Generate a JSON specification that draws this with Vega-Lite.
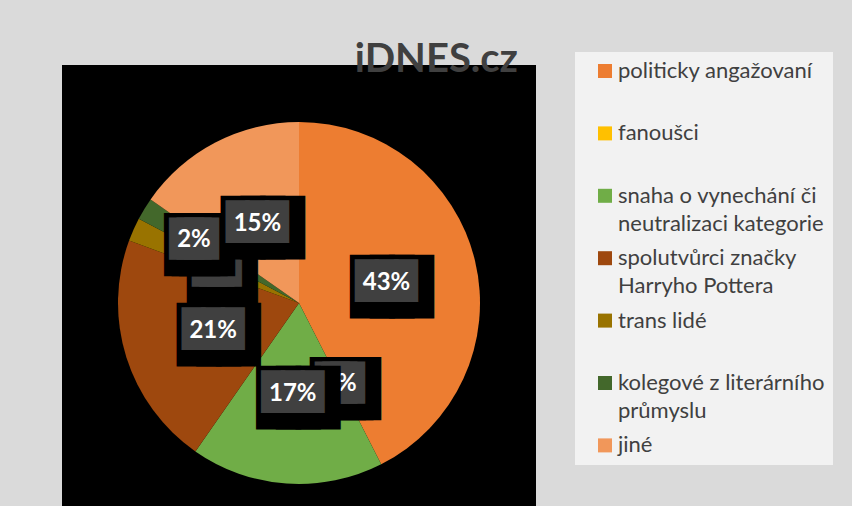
{
  "$schema": "https://vega.github.io/schema/vega-lite/v6.json",
  "width": 404,
  "height": 406,
  "autosize": {"type": "none"},
  "padding": {"left": 97, "top": 100, "right": 351, "bottom": 0},
  "background": "#dadada",
  "view": {"fill": "black", "stroke": "black", "strokeWidth": 70},
  "config": {"view": {"fill": "black", "stroke": "black", "strokeWidth": 70}},
  "title": {"text": "iDNES.cz", "anchor": "end", "frame": "group", "font": "Lato", "fontSize": 40, "fontWeight": "bold", "color": "#404040", "baseline": "alphabetic", "offset": 0, "dx": 17, "dy": 60},
  "data": {"values": [
    {"category": "politicky angažovaní", "value": 42.5, "order": 1, "label": "43%"},
    {"category": "fanoušci", "value": 0, "order": 2, "label": "0%"},
    {"category": "snaha o vynechání či neutralizaci kategorie", "value": 17.2, "order": 3, "label": "17%"},
    {"category": "spolutvůrci značky Harryho Pottera", "value": 20.9, "order": 4, "label": "21%"},
    {"category": "trans lidé", "value": 2.1, "order": 5, "label": "2%"},
    {"category": "kolegové z literárního průmyslu", "value": 2.0, "order": 6, "label": "2%"},
    {"category": "jiné", "value": 15.3, "order": 7, "label": "15%"}
  ]},
  "encoding": {
    "theta": {"field": "value", "type": "quantitative", "stack": true},
    "order": {"field": "order", "type": "quantitative"},
    "detail": {"field": "category", "type": "nominal"}
  },
  "layer": [
    {
      "mark": {"type": "arc", "outerRadius": 181},
      "encoding": {
        "color": {
          "field": "category", "type": "nominal",
          "scale": {
            "domain": ["politicky angažovaní", "fanoušci", "snaha o vynechání či neutralizaci kategorie", "spolutvůrci značky Harryho Pottera", "trans lidé", "kolegové z literárního průmyslu", "jiné"],
            "range": ["#ED7D31", "#FFC000", "#70AD47", "#9E480E", "#997300", "#43682B", "#F1975A"]
          },
          "legend": {
            "orient": "none", "legendX": 478, "legendY": -48, "title": null,
            "symbolType": "square", "symbolSize": 196, "symbolStrokeWidth": 0, "symbolOffset": 11,
            "labelFont": "Lato", "labelFontSize": 22, "labelColor": "#404040", "labelLimit": 400,
            "fillColor": "#f2f2f2", "padding": 8, "rowPadding": 12.4, "gridAlign": "all",
            "labelOffset": 2, "labelBaseline": "top",
            "labelExpr": "datum.label == 'snaha o vynechání či neutralizaci kategorie' ? ['snaha o vynechání či', 'neutralizaci kategorie'] : datum.label == 'spolutvůrci značky Harryho Pottera' ? ['spolutvůrci značky', 'Harryho Pottera'] : datum.label == 'kolegové z literárního průmyslu' ? ['kolegové z literárního', 'průmyslu'] : datum.label",
            "encode": {"labels": {"update": {"lineHeight": {"value": 28}, "dy": {"value": -10}}}}
          }
        }
      }
    },
    {
      "encoding": {"opacity": {"condition": {"test": "indexof(['politicky angažovaní', 'fanoušci', 'spolutvůrci značky Harryho Pottera', 'trans lidé'], datum.category) >= 0", "value": 1}, "value": 0}},
      "layer": [
        {"mark": {"type": "text", "radius": 90, "text": "███", "font": "DejaVu Sans Mono", "align": "center", "baseline": "middle", "fill": "black", "stroke": "black", "strokeJoin": "miter", "dx": 5.5, "dy": 5.8},
         "encoding": {"size": {"condition": {"test": "length(datum.label) < 3", "value": 12.5}, "value": 32.7}, "strokeWidth": {"condition": {"test": "length(datum.label) < 3", "value": 48.5}, "value": 24.9}}},
        {"mark": {"type": "text", "radius": 90, "text": "███", "font": "DejaVu Sans Mono", "align": "center", "baseline": "middle", "fill": "#404040", "stroke": "#404040", "strokeJoin": "miter"},
         "encoding": {"size": {"condition": {"test": "length(datum.label) < 3", "value": 12.5}, "value": 32.7}, "strokeWidth": {"condition": {"test": "length(datum.label) < 3", "value": 27.5}, "value": 3.9}}},
        {"mark": {"type": "text", "radius": 90, "font": "Lato", "fontWeight": "bold", "fontSize": 24, "fill": "white", "align": "center", "baseline": "middle", "dy": 1},
         "encoding": {"text": {"field": "label", "type": "nominal"}}}
      ]
    },
    {
      "encoding": {"opacity": {"condition": {"test": "datum.category == 'snaha o vynechání či neutralizaci kategorie'", "value": 1}, "value": 0}},
      "layer": [
        {"mark": {"type": "text", "radius": 90, "text": "███", "font": "DejaVu Sans Mono", "size": 32.7, "strokeWidth": 24.9, "align": "center", "baseline": "middle", "fill": "black", "stroke": "black", "strokeJoin": "miter", "dx": 5.5, "dy": 5.8}},
        {"mark": {"type": "text", "radius": 90, "text": "███", "font": "DejaVu Sans Mono", "size": 32.7, "strokeWidth": 3.9, "align": "center", "baseline": "middle", "fill": "#404040", "stroke": "#404040", "strokeJoin": "miter"}},
        {"mark": {"type": "text", "radius": 90, "font": "Lato", "fontWeight": "bold", "fontSize": 24, "fill": "white", "align": "center", "baseline": "middle", "dy": 1},
         "encoding": {"text": {"field": "label", "type": "nominal"}}}
      ]
    },
    {
      "encoding": {"opacity": {"condition": {"test": "datum.category == 'kolegové z literárního průmyslu'", "value": 1}, "value": 0}},
      "layer": [
        {"mark": {"type": "text", "radius": 123, "text": "███", "font": "DejaVu Sans Mono", "size": 12.5, "strokeWidth": 48.5, "align": "center", "baseline": "middle", "fill": "black", "stroke": "black", "strokeJoin": "miter", "dx": 5.5, "dy": 5.8}},
        {"mark": {"type": "text", "radius": 123, "text": "███", "font": "DejaVu Sans Mono", "size": 12.5, "strokeWidth": 27.5, "align": "center", "baseline": "middle", "fill": "#404040", "stroke": "#404040", "strokeJoin": "miter"}},
        {"mark": {"type": "text", "radius": 123, "font": "Lato", "fontWeight": "bold", "fontSize": 24, "fill": "white", "align": "center", "baseline": "middle", "dy": 1},
         "encoding": {"text": {"field": "label", "type": "nominal"}}}
      ]
    },
    {
      "encoding": {"opacity": {"condition": {"test": "datum.category == 'jiné'", "value": 1}, "value": 0}},
      "layer": [
        {"mark": {"type": "text", "radius": 90, "text": "███", "font": "DejaVu Sans Mono", "size": 32.7, "strokeWidth": 24.9, "align": "center", "baseline": "middle", "fill": "black", "stroke": "black", "strokeJoin": "miter", "dx": 5.5, "dy": 5.8}},
        {"mark": {"type": "text", "radius": 90, "text": "███", "font": "DejaVu Sans Mono", "size": 32.7, "strokeWidth": 3.9, "align": "center", "baseline": "middle", "fill": "#404040", "stroke": "#404040", "strokeJoin": "miter"}},
        {"mark": {"type": "text", "radius": 90, "font": "Lato", "fontWeight": "bold", "fontSize": 24, "fill": "white", "align": "center", "baseline": "middle", "dy": 1},
         "encoding": {"text": {"field": "label", "type": "nominal"}}}
      ]
    }
  ]
}
